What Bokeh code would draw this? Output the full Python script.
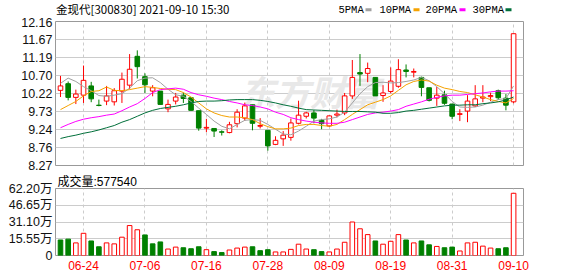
from bokeh.plotting import figure
from bokeh.layouts import column
from bokeh.models import ColumnDataSource, FixedTicker, CustomJSTickFormatter, Range1d
from bokeh.embed import file_html
from bokeh.resources import INLINE
from bokeh.core.properties import value

# ---------------- data ----------------
dates = ["06-21", "06-22", "06-23", "06-24", "06-25", "06-28", "06-29", "06-30",
         "07-01", "07-02", "07-05", "07-06", "07-07", "07-08", "07-09", "07-12",
         "07-13", "07-14", "07-15", "07-16", "07-19", "07-20", "07-21", "07-22",
         "07-23", "07-26", "07-27", "07-28", "07-29", "07-30", "08-02", "08-03",
         "08-04", "08-05", "08-06", "08-09", "08-10", "08-11", "08-12", "08-13",
         "08-16", "08-17", "08-18", "08-19", "08-20", "08-23", "08-24", "08-25",
         "08-26", "08-27", "08-30", "08-31", "09-01", "09-02", "09-03", "09-06",
         "09-07", "09-08", "09-09", "09-10"]

opens = [10.30, 10.48, 10.11, 10.17, 10.42, 9.90, 10.01, 9.99, 10.28, 10.44,
         11.22, 10.67, 10.28, 10.28, 9.80, 10.01, 10.17, 10.10, 9.75, 9.28,
         9.27, 9.18, 9.16, 9.40, 9.55, 9.91, 9.33, 9.22, 8.84, 8.99,
         9.03, 9.41, 9.60, 9.69, 9.49, 9.34, 9.63, 9.69, 10.15, 10.78,
         10.76, 10.65, 10.16, 10.27, 10.41, 10.85, 10.79, 10.65, 10.37, 10.09,
         10.18, 9.93, 9.65, 9.74, 9.88, 10.09, 10.13, 10.29, 10.09, 9.99]
highs = [10.69, 10.54, 10.32, 10.97, 10.53, 10.05, 10.42, 10.36, 10.78, 11.28,
         11.38, 10.76, 10.44, 10.28, 10.05, 10.23, 10.24, 10.11, 9.75, 9.53,
         9.27, 9.22, 9.45, 9.79, 9.97, 9.91, 9.55, 9.22, 9.06, 9.20,
         9.54, 10.02, 9.72, 9.77, 9.53, 9.62, 9.78, 10.23, 11.12, 11.28,
         11.05, 10.65, 10.44, 10.92, 11.14, 11.00, 10.89, 10.67, 10.37, 10.39,
         10.29, 9.93, 9.79, 10.17, 10.44, 10.44, 10.24, 10.32, 10.20, 11.83]
lows = [10.12, 10.03, 9.93, 9.96, 9.98, 9.87, 9.90, 9.89, 9.96, 10.33,
        10.62, 10.23, 10.14, 9.92, 9.71, 9.92, 9.96, 9.75, 9.21, 9.17,
        9.04, 9.08, 9.14, 9.30, 9.48, 9.22, 9.27, 8.67, 8.82, 8.80,
        8.94, 9.38, 9.54, 9.41, 9.25, 9.31, 9.57, 9.63, 10.07, 10.42,
        10.52, 10.15, 9.99, 10.22, 10.37, 10.65, 10.65, 10.14, 10.00, 9.88,
        9.91, 9.52, 9.47, 9.44, 9.85, 9.98, 10.01, 10.04, 9.76, 9.95]
closes = [10.42, 10.11, 10.20, 10.57, 10.07, 9.89, 10.15, 10.29, 10.60, 10.87,
          10.94, 10.45, 10.37, 9.92, 9.92, 10.12, 10.08, 9.76, 9.28, 9.30,
          9.20, 9.17, 9.37, 9.71, 9.88, 9.41, 9.35, 8.80, 8.95, 9.09,
          9.42, 9.63, 9.69, 9.55, 9.40, 9.61, 9.66, 10.15, 10.65, 10.74,
          10.89, 10.15, 10.23, 10.55, 10.86, 10.81, 10.81, 10.38, 10.03, 10.17,
          9.95, 9.60, 9.67, 10.01, 10.07, 10.12, 10.16, 10.10, 9.90, 11.83]

ma5 = [10.49, 10.63, 10.54, 10.40, 10.29, 10.16, 10.14, 10.17, 10.21, 10.36,
       10.56, 10.63, 10.64, 10.51, 10.33, 10.18, 10.14, 10.00, 9.82, 9.65,
       9.47, 9.33, 9.26, 9.38, 9.49, 9.51, 9.49, 9.38, 9.25, 9.12,
       9.10, 9.20, 9.33, 9.47, 9.51, 9.53, 9.58, 9.71, 9.96, 10.21,
       10.40, 10.51, 10.52, 10.50, 10.51, 10.54, 10.58, 10.65, 10.56, 10.40,
       10.21, 10.00, 9.85, 9.84, 9.85, 9.90, 9.98, 10.05, 10.08, 10.42]
ma10 = [9.78, 9.89, 10.00, 10.15, 10.27, 10.29, 10.39, 10.30, 10.29, 10.32,
        10.36, 10.40, 10.38, 10.35, 10.33, 10.32, 10.24, 10.12, 9.96, 9.80,
        9.69, 9.62, 9.58, 9.58, 9.56, 9.51, 9.40, 9.32, 9.26, 9.26,
        9.28, 9.35, 9.38, 9.38, 9.35, 9.33, 9.38, 9.51, 9.65, 9.78,
        9.91, 9.98, 10.05, 10.15, 10.30, 10.45, 10.54, 10.58, 10.55, 10.44,
        10.36, 10.32, 10.27, 10.24, 10.18, 10.12, 10.05, 10.00, 9.96, 10.08]
ma20 = [9.29, 9.38, 9.46, 9.52, 9.56, 9.59, 9.63, 9.66, 9.75, 9.85,
        9.94, 10.08, 10.24, 10.32, 10.34, 10.36, 10.33, 10.24, 10.18, 10.14,
        10.09, 10.05, 10.00, 9.96, 9.91, 9.89, 9.85, 9.80, 9.71, 9.65,
        9.56, 9.51, 9.47, 9.44, 9.42, 9.41, 9.41, 9.44, 9.51, 9.58,
        9.65, 9.69, 9.71, 9.74, 9.78, 9.87, 9.93, 9.99, 10.06, 10.11,
        10.15, 10.17, 10.17, 10.19, 10.21, 10.23, 10.26, 10.28, 10.28, 10.29]
ma30 = [9.00, 9.05, 9.09, 9.14, 9.18, 9.23, 9.29, 9.35, 9.44, 9.51,
        9.60, 9.69, 9.76, 9.81, 9.84, 9.87, 9.91, 9.96, 10.00, 10.01,
        10.01, 10.02, 10.04, 10.05, 10.05, 10.05, 10.03, 10.00, 9.96, 9.91,
        9.87, 9.82, 9.78, 9.77, 9.76, 9.75, 9.74, 9.73, 9.73, 9.73,
        9.72, 9.71, 9.68, 9.68, 9.70, 9.74, 9.76, 9.79, 9.82, 9.85,
        9.88, 9.90, 9.90, 9.91, 9.91, 9.94, 9.96, 9.99, 10.04, 10.12]

# volume in 万股, and bar colour direction as seen in the picture
volumes = [14.4, 15.2, 11.7, 20.6, 13.5, 8.1, 11.7, 10.8, 17.0, 27.8,
           23.9, 19.1, 10.8, 12.6, 6.0, 7.8, 7.2, 6.3, 8.1, 5.4,
           3.6, 2.7, 5.1, 6.9, 7.8, 8.1, 4.5, 5.4, 3.3, 3.3,
           5.7, 10.5, 6.0, 5.4, 3.6, 3.3, 6.0, 12.3, 31.1, 24.8,
           19.4, 13.5, 10.5, 13.2, 19.4, 14.4, 11.7, 13.5, 9.9, 8.4,
           7.2, 7.8, 4.2, 11.7, 12.3, 8.7, 6.9, 6.3, 7.2, 57.754]
vol_dir = ["d", "d", "u", "u", "d", "d", "u", "u", "u", "u",
           "u", "d", "d", "d", "u", "u", "d", "d", "d", "u",
           "d", "d", "u", "u", "u", "d", "d", "d", "u", "u",
           "u", "u", "u", "d", "d", "u", "u", "u", "u", "u",
           "u", "d", "u", "u", "u", "d", "u", "d", "d", "u",
           "d", "d", "u", "u", "u", "u", "u", "d", "d", "u"]

price_ticks = [8.27, 8.76, 9.24, 9.73, 10.22, 10.70, 11.19, 11.67, 12.16]
vol_ticks = [0, 15.55, 31.10, 46.65, 62.20]
date_ticks = ["06-24", "07-06", "07-16", "07-28", "08-09", "08-19", "08-31", "09-10"]
title_text = "金现代[300830] 2021-09-10 15:30"
vol_text = "成交量:577540"
ma_names = ["5PMA", "10PMA", "20PMA", "30PMA"]
watermark = "东方财富"

# ---------------- styling ----------------
RED = "#ff0000"
GREEN = "#008000"
MA_COLORS = ["#a0a0a0", "#f5a200", "#ff00ff", "#006f3a"]
GRID = "#cccccc"
BORDER = "#999999"
NUM_FONT = "Liberation Sans"
CJK_FONT = "Noto Sans CJK SC"
W = 578
FL, FR = 55, 523          # frame left / right in page pixels

xs = list(range(len(dates)))
tick_idx = [dates.index(d) for d in date_ticks]

cdl = ColumnDataSource(dict(
    x=xs, high=highs, low=lows,
    top=[max(o, c) for o, c in zip(opens, closes)],
    bottom=[min(o, c) for o, c in zip(opens, closes)],
    color=[RED if c >= o else GREEN for o, c in zip(opens, closes)],
    fill=["#ffffff" if c >= o else GREEN for o, c in zip(opens, closes)],
))
vsrc = ColumnDataSource(dict(
    x=xs, vol=volumes,
    color=[RED if d == "u" else GREEN for d in vol_dir],
    fill=["#ffffff" if d == "u" else GREEN for d in vol_dir],
))

x_range = Range1d(-0.65, 60.29)


def style_yaxis(ax):
    ax.major_tick_out = 0
    ax.major_tick_in = 0
    ax.minor_tick_out = 0
    ax.minor_tick_in = 0
    ax.axis_line_color = None
    ax.major_label_standoff = 3
    ax.major_label_text_font_size = "12.5px"
    ax.major_label_text_color = "#111111"


# ---------------- header band: title + MA legend (pixel coordinates) ----------------
HH = 17
head = figure(width=W, height=HH, x_range=Range1d(FL, FR), y_range=Range1d(HH, 0),
              output_backend="svg", toolbar_location=None, tools="",
              x_axis_location=None, y_axis_location=None,
              min_border_left=FL, min_border_right=W - FR, min_border_top=0, min_border_bottom=0)
head.outline_line_color = None
head.grid.visible = False
head.background_fill_color = "#ffffff"
head.border_fill_color = "#ffffff"
head.text(x=[55.5], y=[8.5], text=[title_text], text_font=value(CJK_FONT),
          text_font_size="11.5px", text_baseline="middle", text_align="left",
          text_color="#000000")
leg_x = [338, 379, 425, 472]
sw_x = [368, 416, 462, 508]
head.text(x=leg_x, y=[9.2] * 4, text=ma_names, text_font=value("Liberation Mono"),
          text_font_size="10.5px", text_baseline="middle", text_align="left",
          text_color="#000000")
head.rect(x=sw_x, y=[9.3] * 4, width=6, height=3, fill_color=MA_COLORS, line_color=None)

# ---------------- price panel ----------------
p1 = figure(width=W, height=172 - HH, x_range=x_range, y_range=Range1d(8.27, 12.16),
            output_backend="svg", toolbar_location=None, tools="",
            x_axis_location=None, min_border_left=FL, min_border_right=W - FR,
            min_border_top=21 - HH, min_border_bottom=7)
p1.outline_line_color = BORDER
p1.outline_line_width = 1
p1.background_fill_color = "#ffffff"
p1.border_fill_color = "#ffffff"

ya = p1.yaxis[0]
ya.ticker = FixedTicker(ticks=price_ticks)
ya.formatter = CustomJSTickFormatter(code="return tick.toFixed(2);")
style_yaxis(ya)
ya.major_label_text_font = NUM_FONT

p1.ygrid.grid_line_color = GRID
p1.xgrid.ticker = FixedTicker(ticks=tick_idx)
p1.xgrid.grid_line_color = GRID
p1.xgrid.grid_line_dash = "3 3"

p1.text(x=[32.5], y=[10.29], text=[watermark], text_font=value(CJK_FONT),
        text_font_size="35px", text_font_style="bold italic", text_color="#e8e8e8",
        text_align="center", text_baseline="middle")

p1.segment(x0="x", y0="high", x1="x", y1="low", line_color="color", line_width=1, source=cdl)
p1.vbar(x="x", width=0.6, top="top", bottom="bottom", fill_color="fill",
        line_color="color", line_width=1, source=cdl)

for ma, col in zip([ma5, ma10, ma20, ma30], MA_COLORS):
    p1.line(xs, ma, line_color=col, line_width=1)

# ---------------- volume panel ----------------
p2 = figure(width=W, height=276 - 172, x_range=x_range, y_range=Range1d(0, 62.2),
            title=vol_text,
            output_backend="svg", toolbar_location=None, tools="",
            min_border_left=FL, min_border_right=W - FR, min_border_top=14, min_border_bottom=21)
p2.outline_line_color = BORDER
p2.outline_line_width = 1
p2.background_fill_color = "#ffffff"
p2.border_fill_color = "#ffffff"
p2.title.align = "left"
p2.title.offset = 2
p2.title.standoff = 0
p2.title.text_font = NUM_FONT + ", " + CJK_FONT
p2.title.text_font_size = "12px"
p2.title.text_font_style = "normal"
p2.title.text_color = "#000000"

xa = p2.xaxis[0]
xa.ticker = FixedTicker(ticks=tick_idx)
xa.major_label_overrides = {i: d for i, d in zip(tick_idx, date_ticks)}
xa.major_tick_out = 0
xa.major_tick_in = 0
xa.minor_tick_out = 0
xa.minor_tick_in = 0
xa.axis_line_color = None
xa.major_label_standoff = 5
xa.major_label_text_font = NUM_FONT
xa.major_label_text_font_size = "12px"
xa.major_label_text_color = RED

ya2 = p2.yaxis[0]
ya2.ticker = FixedTicker(ticks=vol_ticks)
ya2.formatter = CustomJSTickFormatter(code="return tick == 0 ? '0' : tick.toFixed(2) + '万';")
style_yaxis(ya2)
ya2.major_label_text_font = NUM_FONT + ", " + CJK_FONT

p2.ygrid.grid_line_color = GRID
p2.xgrid.grid_line_color = GRID
p2.xgrid.grid_line_dash = "3 3"

p2.vbar(x="x", width=0.6, top="vol", bottom=0, fill_color="fill",
        line_color="color", line_width=1, source=vsrc)

layout = column(head, p1, p2, spacing=0)
open("out.html", "w").write(file_html(layout, INLINE))
